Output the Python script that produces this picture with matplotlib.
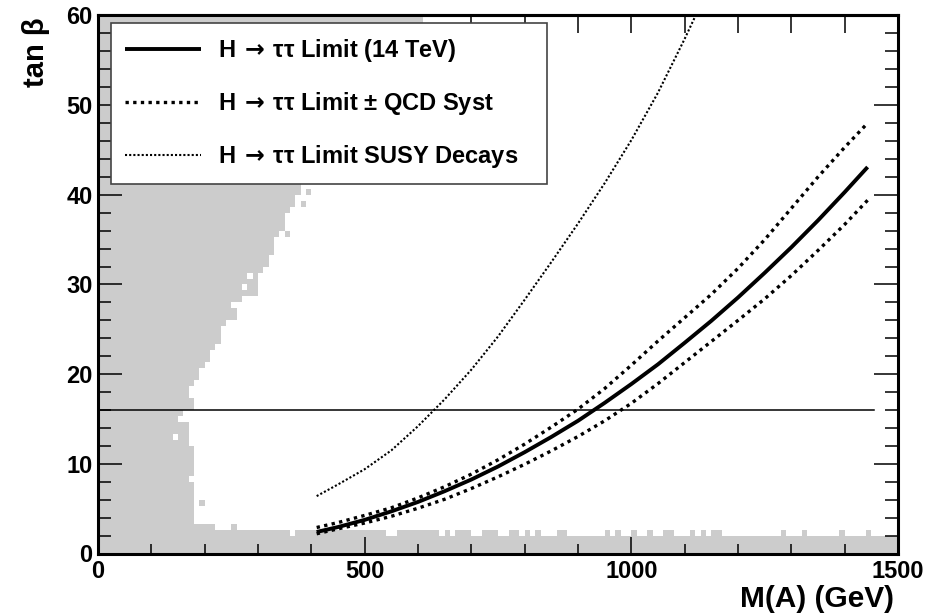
import numpy as np
import matplotlib
matplotlib.use("Agg")
import matplotlib.pyplot as plt
from matplotlib.ticker import MultipleLocator
from matplotlib.colors import ListedColormap

plt.rcParams['font.family'] = ['Liberation Sans', 'DejaVu Sans']
plt.rcParams['font.weight'] = 'bold'
plt.rcParams['axes.labelweight'] = 'bold'
plt.rcParams['mathtext.fontset'] = 'dejavusans'

# H -> tau tau discovery limit
m_lim = [410, 450, 500, 550, 600, 650, 700, 750, 800, 850, 900, 950,
         1000, 1050, 1100, 1150, 1200, 1250, 1300, 1350, 1400, 1443]
tb_lim = [2.4, 2.95, 3.75, 4.7, 5.75, 6.95, 8.25, 9.7, 11.3, 13.0, 14.8, 16.8,
          18.9, 21.1, 23.5, 25.95, 28.55, 31.3, 34.15, 37.15, 40.3, 43.1]
tb_qcd_up = [2.9, 3.45, 4.25, 5.1, 6.2, 7.45, 8.85, 10.45, 12.2, 14.1, 16.1, 18.4,
             21.0, 23.7, 26.3, 28.9, 31.8, 35.0, 38.5, 42.0, 45.3, 48.0]
tb_qcd_dn = [2.2, 2.75, 3.4, 4.15, 5.05, 6.05, 7.25, 8.55, 9.95, 11.45, 13.05, 14.8,
             16.75, 18.95, 21.3, 23.65, 26.0, 28.4, 31.0, 33.8, 36.7, 39.4]

m_susy = [410, 450, 500, 550, 600, 650, 700, 750, 800, 850, 900, 950,
          1000, 1050, 1100, 1130]
tb_susy = [6.4, 7.7, 9.4, 11.5, 14.2, 17.2, 20.5, 24.2, 28.3, 32.5, 36.8, 41.3,
           46.1, 51.4, 57.4, 61.2]

tb_ref = 16
m_ref_end = 1455

# excluded (grey) region: 10 GeV x 2/3 tan(beta) bins
# left edge: for tan(beta) >= bound_tb[i], grey below bound_m[i]
bound_tb = [0.0, 8.0, 8.67, 12.0, 14.67, 16.0, 17.33, 18.67, 19.33, 20.67,
            21.33, 22.67, 23.33, 25.33, 26.0, 27.33, 28.0, 28.67, 31.33, 32.0,
            33.33, 35.33, 36.0, 38.0, 38.67, 40.0, 41.33, 44.0, 47.33, 50.67,
            54.0, 57.33]
bound_m = [180, 170, 180, 170, 160, 180, 170, 180, 190, 200,
           210, 220, 230, 240, 260, 250, 270, 300, 310, 320,
           330, 340, 350, 360, 370, 380, 400, 440, 480, 520,
           560, 610]
# bottom strip: 3 bins high, 4 bins in these mass ranges, 5 bins in band5
band4 = [(220, 360), (370, 540), (560, 640), (650, 660), (670, 700), (720, 750),
         (770, 790), (800, 810), (820, 830), (860, 880), (950, 960), (970, 980),
         (1000, 1010), (1030, 1040), (1060, 1080), (1110, 1120), (1130, 1140),
         (1150, 1170), (1280, 1290), (1320, 1330), (1390, 1400), (1440, 1450)]
band5 = [(180, 220), (250, 260)]
# single bins that flip (mass low edge, tan(beta) low edge)
specks = [(280, 30.67), (270, 29.33), (150, 14.67), (140, 12.67),
          (190, 5.33), (390, 40.0), (380, 38.67), (350, 35.33)]

x_edges = np.arange(0, 1510, 10)
y_edges = np.linspace(0, 60, 91)
xc = 0.5 * (x_edges[:-1] + x_edges[1:])
yc = 0.5 * (y_edges[:-1] + y_edges[1:])
X, Y = np.meshgrid(xc, yc)

idx = np.searchsorted(bound_tb, yc, side='right') - 1
edge_m = np.array(bound_m)[idx]
grey = X < edge_m[:, None]

band = np.full(xc.shape, 2.0)
for a, b in band4:
    band[(xc > a) & (xc < b)] = 8 / 3
for a, b in band5:
    band[(xc > a) & (xc < b)] = 10 / 3
grey |= Y < band[None, :]

for m, t in specks:
    i = int(round(t / (2 / 3)))
    j = int(m // 10)
    grey[i, j] = ~grey[i, j]

fig = plt.figure(figsize=(9.44, 6.15), dpi=100)
ax = fig.add_axes([0.1038, 0.1, 0.8475, 0.8748])

ax.pcolormesh(x_edges, y_edges, np.ma.masked_where(~grey, grey.astype(float)),
              cmap=ListedColormap(['#cccccc']), vmin=0, vmax=1,
              edgecolors='none', antialiased=False, zorder=1)

ax.plot([0, m_ref_end], [tb_ref, tb_ref], color='black', lw=1.1, zorder=3)

arrow = r'H$\,\rightarrow\,$ττ'
ax.plot(m_lim, tb_lim, color='black', lw=2.8, solid_capstyle='butt', zorder=4,
        label=arrow + ' Limit (14 TeV)')
ax.plot(m_lim, tb_qcd_up, color='black', lw=2.4, ls=(0, (1, 1.3)), zorder=4,
        label=arrow + ' Limit ± QCD Syst')
ax.plot(m_lim, tb_qcd_dn, color='black', lw=2.4, ls=(0, (1, 1.3)), zorder=4)
ax.plot(m_susy, tb_susy, color='black', lw=1.5, ls=(0, (1, 1)), zorder=4,
        label=arrow + ' Limit SUSY Decays')

ax.set_xlim(0, 1500)
ax.set_ylim(0, 60)

ax.xaxis.set_major_locator(MultipleLocator(500))
ax.xaxis.set_minor_locator(MultipleLocator(100))
ax.yaxis.set_major_locator(MultipleLocator(10))
ax.yaxis.set_minor_locator(MultipleLocator(2))
ax.tick_params(which='both', direction='in', right=True, top=False,
               labelsize=17, width=1.1)
ax.tick_params(axis='x', which='major', length=12.2, pad=5)
ax.tick_params(axis='x', which='minor', length=7.2)
ax.tick_params(axis='y', which='major', length=17, pad=4)
ax.tick_params(axis='y', which='minor', length=9.4)

sec = ax.secondary_xaxis('top')
sec.xaxis.set_major_locator(MultipleLocator(500))
sec.xaxis.set_minor_locator(MultipleLocator(100))
sec.tick_params(which='both', direction='in', length=13, width=1.1,
                labeltop=False)
sec.spines['top'].set_linewidth(2.2)

for s in ax.spines.values():
    s.set_linewidth(2.2)

ax.set_xlabel('M(A) (GeV)', loc='right', fontsize=21.5)
ax.xaxis.set_label_coords(0.995, -0.085)
ax.xaxis.label.set_va('center')
ax.set_ylabel('tan β', loc='top', fontsize=21)
ax.yaxis.set_label_coords(-0.077, 0.997)
ax.yaxis.label.set_va('center')

leg = ax.legend(loc='upper left', bbox_to_anchor=(0.01625, 0.0, 0.545, 0.986),
                mode='expand', borderaxespad=0, fontsize=17, frameon=True,
                fancybox=False, framealpha=1, edgecolor='#444444',
                handlelength=3.2, handletextpad=0.75, labelspacing=1.1,
                borderpad=0.6)
leg.get_frame().set_linewidth(1.2)
leg.set_zorder(10)

fig.savefig('out.png', dpi=100)
